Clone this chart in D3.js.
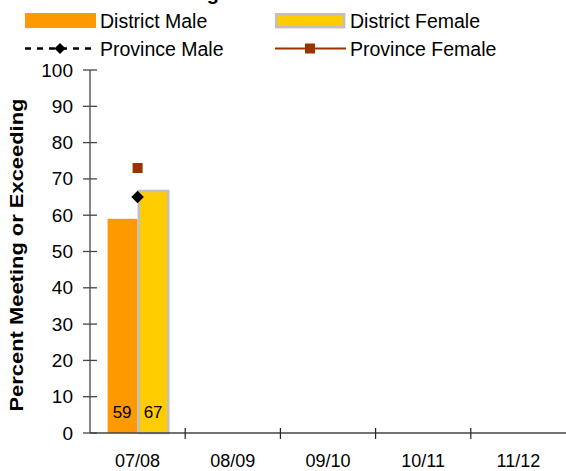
<!DOCTYPE html>
<html><head><meta charset="utf-8">
<script src="https://cdn.jsdelivr.net/npm/d3@7/dist/d3.min.js"></script>
<style>body{margin:0;background:#fff}svg{display:block}text{font-family:"Liberation Sans",Arial,sans-serif}</style>
</head><body>
<script>
const categories = ["07/08","08/09","09/10","10/11","11/12"];
const districtMale = [59, null, null, null, null];
const districtFemale = [67, null, null, null, null];
const provinceMale = [65, null, null, null, null];
const provinceFemale = [73, null, null, null, null];
const yTicks = [0,10,20,30,40,50,60,70,80,90,100];

const W = 566, H = 471;
const svg = d3.select("body").append("svg").attr("width", W).attr("height", H);

const x = d3.scaleBand().domain(categories).range([90, 566]);
const y = d3.scaleLinear().domain([0, 100]).range([433, 70]);
const bw = 30;

// bars
const g = svg.append("g");
categories.forEach((c, i) => {
  const cx = x(c) + x.bandwidth() / 2;
  if (districtMale[i] != null) {
    g.append("rect").attr("x", cx - bw).attr("y", y(districtMale[i]))
      .attr("width", bw).attr("height", y(0) - y(districtMale[i]))
      .attr("fill", "#FF9900");
    g.append("text").attr("x", cx - bw / 2 - 0.5).attr("y", 418).attr("text-anchor", "middle")
      .attr("font-size", 17).text(districtMale[i]);
  }
  if (districtFemale[i] != null) {
    g.append("rect").attr("x", cx + 1.2).attr("y", y(districtFemale[i]) + 1.2)
      .attr("width", bw - 0.5).attr("height", y(0) - y(districtFemale[i]) - 1.2)
      .attr("fill", "#FFCC00").attr("stroke", "#C0C0C0").attr("stroke-width", 2.5);
    g.append("text").attr("x", cx + bw / 2 + 0.5).attr("y", 418).attr("text-anchor", "middle")
      .attr("font-size", 17).text(districtFemale[i]);
  }
});

// axes
const yAxis = svg.append("g");
yAxis.append("line").attr("x1", 90).attr("x2", 90).attr("y1", y(100)).attr("y2", y(0))
  .attr("stroke", "#444").attr("stroke-width", 1.3);
yTicks.forEach(t => {
  yAxis.append("line").attr("x1", 83).attr("x2", 97).attr("y1", y(t)).attr("y2", y(t))
    .attr("stroke", "#444").attr("stroke-width", 1.3);
  yAxis.append("text").attr("x", 73).attr("y", y(t) + 6.5).attr("text-anchor", "end")
    .attr("font-size", 19).text(t);
});
const xAxis = svg.append("g");
xAxis.append("line").attr("x1", 90).attr("x2", 566).attr("y1", y(0)).attr("y2", y(0))
  .attr("stroke", "#444").attr("stroke-width", 1.3);
categories.forEach((c, i) => {
  if (i > 0) xAxis.append("line").attr("x1", x(c)).attr("x2", x(c)).attr("y1", 428).attr("y2", 439)
    .attr("stroke", "#222").attr("stroke-width", 1.2);
  xAxis.append("text").attr("x", x(c) + x.bandwidth() / 2).attr("y", 466.5).attr("text-anchor", "middle")
    .attr("font-size", 18).text(c);
});

// province points
categories.forEach((c, i) => {
  const cx = x(c) + x.bandwidth() / 2;
  if (provinceMale[i] != null)
    svg.append("path").attr("transform", `translate(${cx},${y(provinceMale[i])})`)
      .attr("d", d3.symbol(d3.symbolDiamond2, 100)()).attr("fill", "#000");
  if (provinceFemale[i] != null)
    svg.append("rect").attr("x", cx - 5).attr("y", y(provinceFemale[i]) - 5)
      .attr("width", 10).attr("height", 10).attr("fill", "#993300");
});

// y axis title
svg.append("text").attr("transform", "translate(23.3,255) rotate(-90)").attr("text-anchor", "middle")
  .attr("font-weight", "bold").attr("font-size", 18.6)
  .attr("textLength", 313).attr("lengthAdjust", "spacingAndGlyphs")
  .text("Percent Meeting or Exceeding");

// legend background (overlaps top of the "100" label as in the reference)
svg.append("rect").attr("x", 0).attr("y", 0).attr("width", 566).attr("height", 62.7).attr("fill", "#fff");

// title (clipped at top, as in the reference)
svg.append("text").attr("x", 219).attr("y", 0).attr("text-anchor", "end")
  .attr("font-weight", "bold").attr("font-size", 20).text("Reading");

// legend
const lg = svg.append("g");
lg.append("rect").attr("x", 25).attr("y", 13).attr("width", 71).attr("height", 15).attr("fill", "#FF9900");
lg.append("text").attr("x", 100).attr("y", 28).attr("font-size", 19.5).text("District Male");
lg.append("rect").attr("x", 276.2).attr("y", 14.2).attr("width", 68).attr("height", 13).attr("fill", "#FFCC00")
  .attr("stroke", "#C0C0C0").attr("stroke-width", 2.5);
lg.append("text").attr("x", 350).attr("y", 28).attr("font-size", 19.5).text("District Female");
lg.append("line").attr("x1", 25).attr("x2", 97).attr("y1", 48.5).attr("y2", 48.5)
  .attr("stroke", "#000").attr("stroke-width", 2.5).attr("stroke-dasharray", "6,6");
lg.append("path").attr("transform", "translate(60,48.5)").attr("d", d3.symbol(d3.symbolDiamond2, 80)()).attr("fill", "#000");
lg.append("text").attr("x", 100).attr("y", 55.5).attr("font-size", 19.5).text("Province Male");
lg.append("line").attr("x1", 275).attr("x2", 346).attr("y1", 48.5).attr("y2", 48.5)
  .attr("stroke", "#993300").attr("stroke-width", 2);
lg.append("rect").attr("x", 305).attr("y", 43.5).attr("width", 10).attr("height", 10).attr("fill", "#993300");
lg.append("text").attr("x", 350).attr("y", 55.5).attr("font-size", 19.5).text("Province Female");
</script>
</body></html>
